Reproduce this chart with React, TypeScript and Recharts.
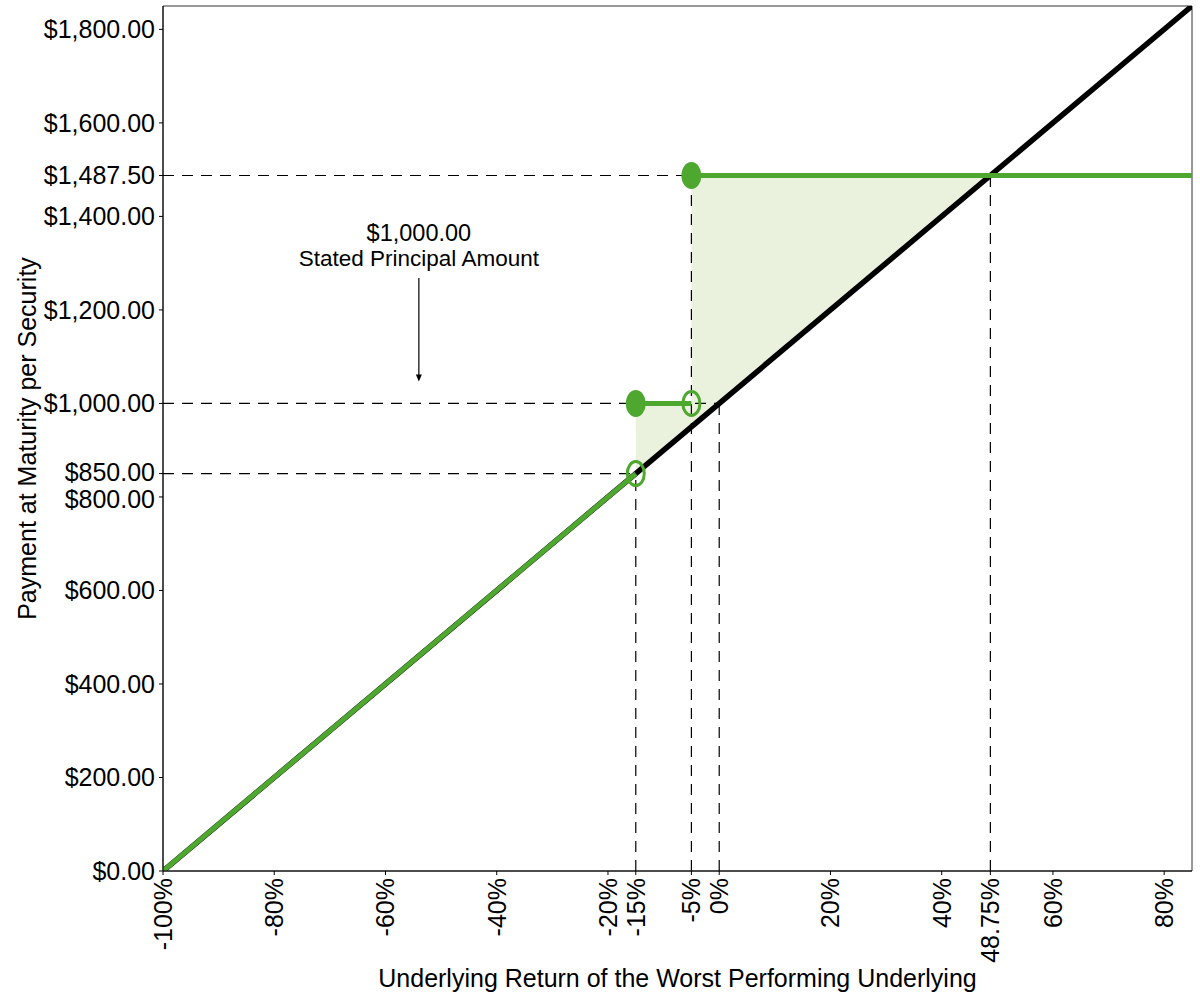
import {
  ComposedChart, Line, Area, Scatter,
  XAxis, YAxis, ReferenceArea, ReferenceLine,
} from "recharts"

// underlying return (%) vs payment at maturity ($)
const xTicks = [-100, -80, -60, -40, -20, -15, -5, 0, 20, 40, 48.75, 60, 80]
const yTicks = [0, 200, 400, 600, 800, 850, 1000, 1200, 1400, 1487.5, 1600, 1800]

const underlyingLine = [{ x: -100, y: 0 }, { x: 85, y: 1850 }]
const payoffBelowBarrier = [{ x: -100, y: 0 }, { x: -15, y: 850 }]
const payoffPrincipal = [{ x: -15, y: 1000 }, { x: -5, y: 1000 }]
const payoffCapped = [{ x: -5, y: 1487.5 }, { x: 85, y: 1487.5 }]
const filledPoints = [{ x: -15, y: 1000 }, { x: -5, y: 1487.5 }]
const openPoints = [{ x: -15, y: 850 }, { x: -5, y: 1000 }]
const shadeLow = [{ x: -15, range: [850, 1000] }, { x: -5, range: [950, 1000] }]
const shadeHigh = [{ x: -5, range: [950, 1487.5] }, { x: 48.75, range: [1487.5, 1487.5] }]

const guideLines = [
  [{ x: -100, y: 1487.5 }, { x: -5, y: 1487.5 }],
  [{ x: -100, y: 1000 }, { x: 0, y: 1000 }],
  [{ x: -100, y: 850 }, { x: -15, y: 850 }],
  [{ x: -15, y: 0 }, { x: -15, y: 850 }],
  [{ x: -5, y: 0 }, { x: -5, y: 1487.5 }],
  [{ x: 0, y: 0 }, { x: 0, y: 1000 }],
  [{ x: 48.75, y: 0 }, { x: 48.75, y: 1487.5 }],
]

const noteLines = ["$1,000.00", "Stated Principal Amount"]
const noteArrow = [{ x: -54, y: 1268 }, { x: -54, y: 1047 }]

const GREEN = "#4ea72e"
const SHADE = "#eaf2de"
const FONT = "Arial, 'Liberation Sans', sans-serif"

const fmtMoney = (v: number) =>
  "$" + v.toLocaleString("en-US", { minimumFractionDigits: 2, maximumFractionDigits: 2 })

function XTick(props: any) {
  const { x, y, payload } = props
  return (
    <text
      x={x}
      y={y}
      transform={`rotate(-90 ${x} ${y})`}
      textAnchor="end"
      dominantBaseline="central"
      fontSize={25}
      fontFamily={FONT}
      fill="#000"
    >
      {payload.value}%
    </text>
  )
}

// 850 and 800 sit very close, nudge them apart a touch
function YTick(props: any) {
  const { x, y, payload } = props
  const nudge = payload.value === 850 ? -2 : payload.value === 800 ? 2 : 0
  return (
    <text
      x={x}
      y={y + nudge}
      textAnchor="end"
      dominantBaseline="central"
      fontSize={25}
      fontFamily={FONT}
      fill="#000"
    >
      {fmtMoney(payload.value)}
    </text>
  )
}

function ArrowNote(props: any) {
  const { x1, y1, x2, y2 } = props
  return (
    <g>
      <line x1={x1} y1={y1} x2={x2} y2={y2 - 6} stroke="#000" strokeWidth={1.2} />
      <polygon points={`${x2 - 3},${y2 - 7} ${x2 + 3},${y2 - 7} ${x2},${y2}`} fill="#000" />
      {noteLines.map((t, i) => (
        <text
          key={t}
          x={x1}
          y={y1 - 45 + i * 25}
          textAnchor="middle"
          dominantBaseline="central"
          fontSize={i === 0 ? 23.5 : 22.5}
          fontFamily={FONT}
          fill="#000"
        >
          {t}
        </text>
      ))}
    </g>
  )
}

const ellipse = (filled: boolean) => (p: any) => (
  <ellipse
    cx={p.cx}
    cy={p.cy}
    rx={filled ? 10 : 8.5}
    ry={filled ? 13.5 : 12}
    fill={filled ? GREEN : "none"}
    stroke={GREEN}
    strokeWidth={filled ? 0 : 3}
  />
)

export default function App() {
  return (
    <div style={{ position: "absolute", left: 0, top: 0, width: 1200, height: 1000, background: "#fff", fontFamily: FONT }}>
      <ComposedChart width={1200} height={1000} margin={{ top: 6, right: 8, bottom: 0, left: 0 }}>
        <XAxis
          type="number"
          dataKey="x"
          domain={[-100, 85]}
          ticks={xTicks}
          interval={0}
          allowDataOverflow
          height={129}
          tickSize={4}
          tickMargin={3}
          stroke="#000"
          tick={<XTick />}
          label={{
            content: (lp: any) => {
              const vb = lp.viewBox
              return (
                <text x={vb.x + vb.width / 2} y={vb.y + 107} textAnchor="middle" dominantBaseline="central"
                  fontSize={25} fontFamily={FONT} fill="#000">
                  Underlying Return of the Worst Performing Underlying
                </text>
              )
            },
          }}
        />
        <YAxis
          type="number"
          dataKey="y"
          domain={[0, 1850]}
          ticks={yTicks}
          interval={0}
          allowDataOverflow
          width={163}
          tickSize={4}
          tickMargin={4}
          stroke="#000"
          tick={<YTick />}
          label={{
            content: (lp: any) => {
              const vb = lp.viewBox
              const cx = 27
              const cy = vb.y + vb.height / 2
              return (
                <text x={cx} y={cy} transform={`rotate(-90 ${cx} ${cy})`} textAnchor="middle" dominantBaseline="central"
                  fontSize={25} fontFamily={FONT} fill="#000">
                  Payment at Maturity per Security
                </text>
              )
            },
          }}
        />
        <ReferenceArea x1={-100} x2={85} y1={0} y2={1850} fill="none" stroke="#333" strokeWidth={1} />

        <Area data={shadeLow} dataKey="range" type="linear" fill={SHADE} fillOpacity={1} stroke="#c9e0b8" strokeWidth={1} isAnimationActive={false} />
        <Area data={shadeHigh} dataKey="range" type="linear" fill={SHADE} fillOpacity={1} stroke="#c9e0b8" strokeWidth={1} isAnimationActive={false} />

        {guideLines.map((seg, i) => (
          <Line key={`g${i}`} data={seg} dataKey="y" type="linear" stroke="#000" strokeWidth={1.2}
            strokeDasharray="11 8" dot={false} activeDot={false} isAnimationActive={false} />
        ))}

        <Line data={underlyingLine} dataKey="y" type="linear" stroke="#000" strokeWidth={5.5} dot={false} activeDot={false} isAnimationActive={false} />
        <Line data={payoffBelowBarrier} dataKey="y" type="linear" stroke={GREEN} strokeWidth={5} dot={false} activeDot={false} isAnimationActive={false} />
        <Line data={payoffPrincipal} dataKey="y" type="linear" stroke={GREEN} strokeWidth={5} dot={false} activeDot={false} isAnimationActive={false} />
        <Line data={payoffCapped} dataKey="y" type="linear" stroke={GREEN} strokeWidth={5} dot={false} activeDot={false} isAnimationActive={false} />

        <Scatter data={openPoints} dataKey="y" shape={ellipse(false)} isAnimationActive={false} />
        <Scatter data={filledPoints} dataKey="y" shape={ellipse(true)} isAnimationActive={false} />

        <ReferenceLine
          segment={noteArrow}
          shape={<ArrowNote />}
          ifOverflow="visible"
        />
      </ComposedChart>
    </div>
  )
}
